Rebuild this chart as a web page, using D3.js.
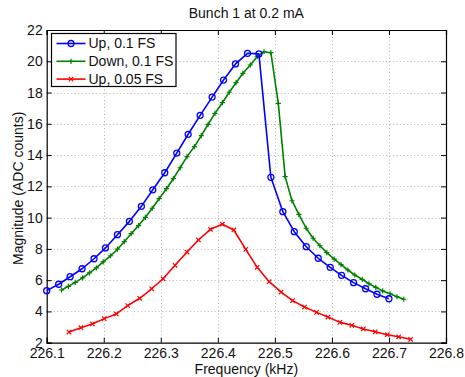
<!DOCTYPE html>
<html>
<head>
<meta charset="utf-8">
<script src="https://cdn.jsdelivr.net/npm/d3@7"></script>
<style>
  html, body { margin: 0; padding: 0; background: #fff; }
  svg { display: block; font-family: 'Liberation Sans', Arial, Helvetica, sans-serif; }
</style>
</head>
<body>
<div id="app"></div>
<script>
const title = 'Bunch 1 at 0.2 mA'
const xLabel = 'Frequency (kHz)'
const yLabel = 'Magnitude (ADC counts)'
const xTicks = [226.1, 226.2, 226.3, 226.4, 226.5, 226.6, 226.7, 226.8]
const yTicks = [2, 4, 6, 8, 10, 12, 14, 16, 18, 20, 22]
const seriesNames = ['Up, 0.1 FS', 'Down, 0.1 FS', 'Up, 0.05 FS']

// Up, 0.1 FS
const upFreq = [
  226.100, 226.121, 226.141, 226.162, 226.183, 226.203, 226.224, 226.245, 226.266, 226.286,
  226.307, 226.328, 226.348, 226.369, 226.390, 226.410, 226.431, 226.452, 226.472, 226.493,
  226.514, 226.534, 226.555, 226.576, 226.597, 226.617, 226.638, 226.659, 226.679, 226.700
]
const upMag = [
  5.33, 5.74, 6.22, 6.73, 7.37, 8.06, 8.91, 9.76, 10.72, 11.78,
  12.87, 14.13, 15.33, 16.54, 17.71, 18.80, 19.83, 20.51, 20.47, 12.58,
  10.38, 9.10, 8.14, 7.40, 6.82, 6.31, 5.84, 5.45, 5.10, 4.81
]

// Down, 0.1 FS
const downFreq = [
  226.126, 226.138, 226.150, 226.163, 226.175, 226.187, 226.199, 226.212, 226.224, 226.236,
  226.248, 226.261, 226.273, 226.285, 226.297, 226.310, 226.322, 226.334, 226.346, 226.359,
  226.371, 226.383, 226.395, 226.408, 226.420, 226.432, 226.444, 226.457, 226.469, 226.481,
  226.493, 226.506, 226.518, 226.530, 226.542, 226.555, 226.567, 226.579, 226.591, 226.604,
  226.616, 226.628, 226.640, 226.653, 226.665, 226.677, 226.689, 226.702, 226.714, 226.726
]
const downMag = [
  5.37, 5.60, 5.86, 6.15, 6.46, 6.79, 7.17, 7.56, 7.98, 8.46,
  8.97, 9.49, 10.02, 10.60, 11.21, 11.85, 12.49, 13.19, 13.90, 14.54,
  15.24, 15.97, 16.67, 17.35, 18.02, 18.63, 19.23, 19.76, 20.29, 20.61,
  20.55, 17.31, 12.62, 11.08, 10.21, 9.32, 8.68, 8.20, 7.76, 7.35,
  6.99, 6.65, 6.33, 6.05, 5.77, 5.54, 5.31, 5.13, 4.94, 4.78
]

// Up, 0.05 FS
const halfFreq = [
  226.139, 226.160, 226.180, 226.201, 226.222, 226.242, 226.263, 226.284, 226.304, 226.325,
  226.346, 226.366, 226.387, 226.408, 226.428, 226.449, 226.469, 226.490, 226.511, 226.531,
  226.552, 226.573, 226.593, 226.614, 226.635, 226.655, 226.676, 226.697, 226.717, 226.738
]
const halfMag = [
  2.68, 2.96, 3.20, 3.54, 3.84, 4.37, 4.84, 5.45, 6.09, 6.95,
  7.80, 8.57, 9.25, 9.58, 9.21, 7.97, 6.82, 5.90, 5.24, 4.69,
  4.28, 3.94, 3.64, 3.30, 3.11, 2.88, 2.70, 2.51, 2.38, 2.22
]

const W = 465, H = 377
const m = { left: 46.7, right: 446, top: 30, bottom: 342.7 }

const series = [
  { name: seriesNames[0], color: '#0000ff', marker: 'circle', pts: upFreq.map((f, i) => [f, upMag[i]]) },
  { name: seriesNames[1], color: '#008000', marker: 'plus', pts: downFreq.map((f, i) => [f, downMag[i]]) },
  { name: seriesNames[2], color: '#ff0000', marker: 'cross', pts: halfFreq.map((f, i) => [f, halfMag[i]]) },
]

const x = d3.scaleLinear().domain([226.1, 226.8]).range([m.left, m.right])
const y = d3.scaleLinear().domain([2, 22]).range([m.bottom, m.top])

const svg = d3.select('#app').append('svg').attr('width', W).attr('height', H)

// grid
const grid = svg.append('g').attr('stroke', '#b4b4b4').attr('stroke-width', 1).attr('stroke-dasharray', '1,2.5')
grid.selectAll('.gx').data(xTicks.slice(1, -1)).join('line')
  .attr('x1', (d) => Math.round(x(d)) + 0.5).attr('x2', (d) => Math.round(x(d)) + 0.5)
  .attr('y1', m.top).attr('y2', m.bottom)
grid.selectAll('.gy').data(yTicks.slice(1, -1)).join('line')
  .attr('y1', (d) => Math.round(y(d)) + 0.5).attr('y2', (d) => Math.round(y(d)) + 0.5)
  .attr('x1', m.left).attr('x2', m.right)

// axes, ticks inward on all sides
const fmt = d3.format('.1f')
const axes = [
  svg.append('g').attr('transform', `translate(0,${m.bottom})`)
    .call(d3.axisBottom(x).tickValues(xTicks).tickFormat(fmt).tickSize(-5).tickPadding(5)),
  svg.append('g').attr('transform', `translate(0,${m.top})`)
    .call(d3.axisTop(x).tickValues(xTicks).tickFormat('').tickSize(-5)),
  svg.append('g').attr('transform', `translate(${m.left},0)`)
    .call(d3.axisLeft(y).tickValues(yTicks).tickFormat(d3.format('d')).tickSize(-5).tickPadding(4)),
  svg.append('g').attr('transform', `translate(${m.right},0)`)
    .call(d3.axisRight(y).tickValues(yTicks).tickFormat('').tickSize(-5)),
]
axes.forEach((a) => {
  a.select('.domain').attr('stroke', '#000').attr('stroke-width', 1.2)
  a.selectAll('.tick line').attr('stroke', '#000')
  a.selectAll('text').attr('font-size', 14).attr('font-family', null).attr('fill', '#111')
})

// markers
function drawMarker(g, kind, color) {
  if (kind === 'circle') {
    g.append('circle').attr('r', 3).attr('fill', 'none').attr('stroke', color).attr('stroke-width', 1.3)
  } else if (kind === 'plus') {
    g.append('path').attr('d', 'M-2.6,0H2.6M0,-2.6V2.6').attr('stroke', color).attr('stroke-width', 1.2)
  } else {
    g.append('path').attr('d', 'M-2.2,-2.2L2.2,2.2M-2.2,2.2L2.2,-2.2').attr('stroke', color).attr('stroke-width', 1.2)
  }
}

const line = d3.line().x((d) => x(d[0])).y((d) => y(d[1]))
const plot = svg.append('g')
series.slice().reverse().forEach((s) => {
  plot.append('path').datum(s.pts).attr('d', line)
    .attr('fill', 'none').attr('stroke', s.color).attr('stroke-width', 1.6).attr('stroke-linejoin', 'round')
  plot.append('g').selectAll('g').data(s.pts).join('g')
    .attr('transform', (d) => `translate(${x(d[0])},${y(d[1])})`)
    .each(function () { drawMarker(d3.select(this), s.marker, s.color) })
})

// legend
const lg = svg.append('g').attr('transform', 'translate(51.5,33.5)')
lg.append('rect').attr('width', 124.5).attr('height', 53).attr('fill', '#fff').attr('stroke', '#000').attr('stroke-width', 1.2)
series.forEach((s, i) => {
  const row = lg.append('g').attr('transform', `translate(0,${10 + i * 17.8})`)
  row.append('line').attr('x1', 5).attr('x2', 34).attr('stroke', s.color).attr('stroke-width', 1.6)
  drawMarker(row.append('g').attr('transform', 'translate(19.5,0)'), s.marker, s.color)
  row.append('text').attr('x', 37).attr('dy', '0.35em').attr('font-size', 14).attr('fill', '#111').text(s.name)
})

// labels
svg.append('text').attr('x', (m.left + m.right) / 2).attr('y', 18).attr('text-anchor', 'middle')
  .attr('font-size', 14).attr('fill', '#111').text(title)
svg.append('text').attr('x', (m.left + m.right) / 2).attr('y', 374).attr('text-anchor', 'middle')
  .attr('font-size', 14).attr('fill', '#111').text(xLabel)
svg.append('text').attr('transform', `translate(23,${(m.top + m.bottom) / 2 + 2}) rotate(-90)`)
  .attr('text-anchor', 'middle').attr('font-size', 14).attr('fill', '#111').text(yLabel)
</script>
</body>
</html>
